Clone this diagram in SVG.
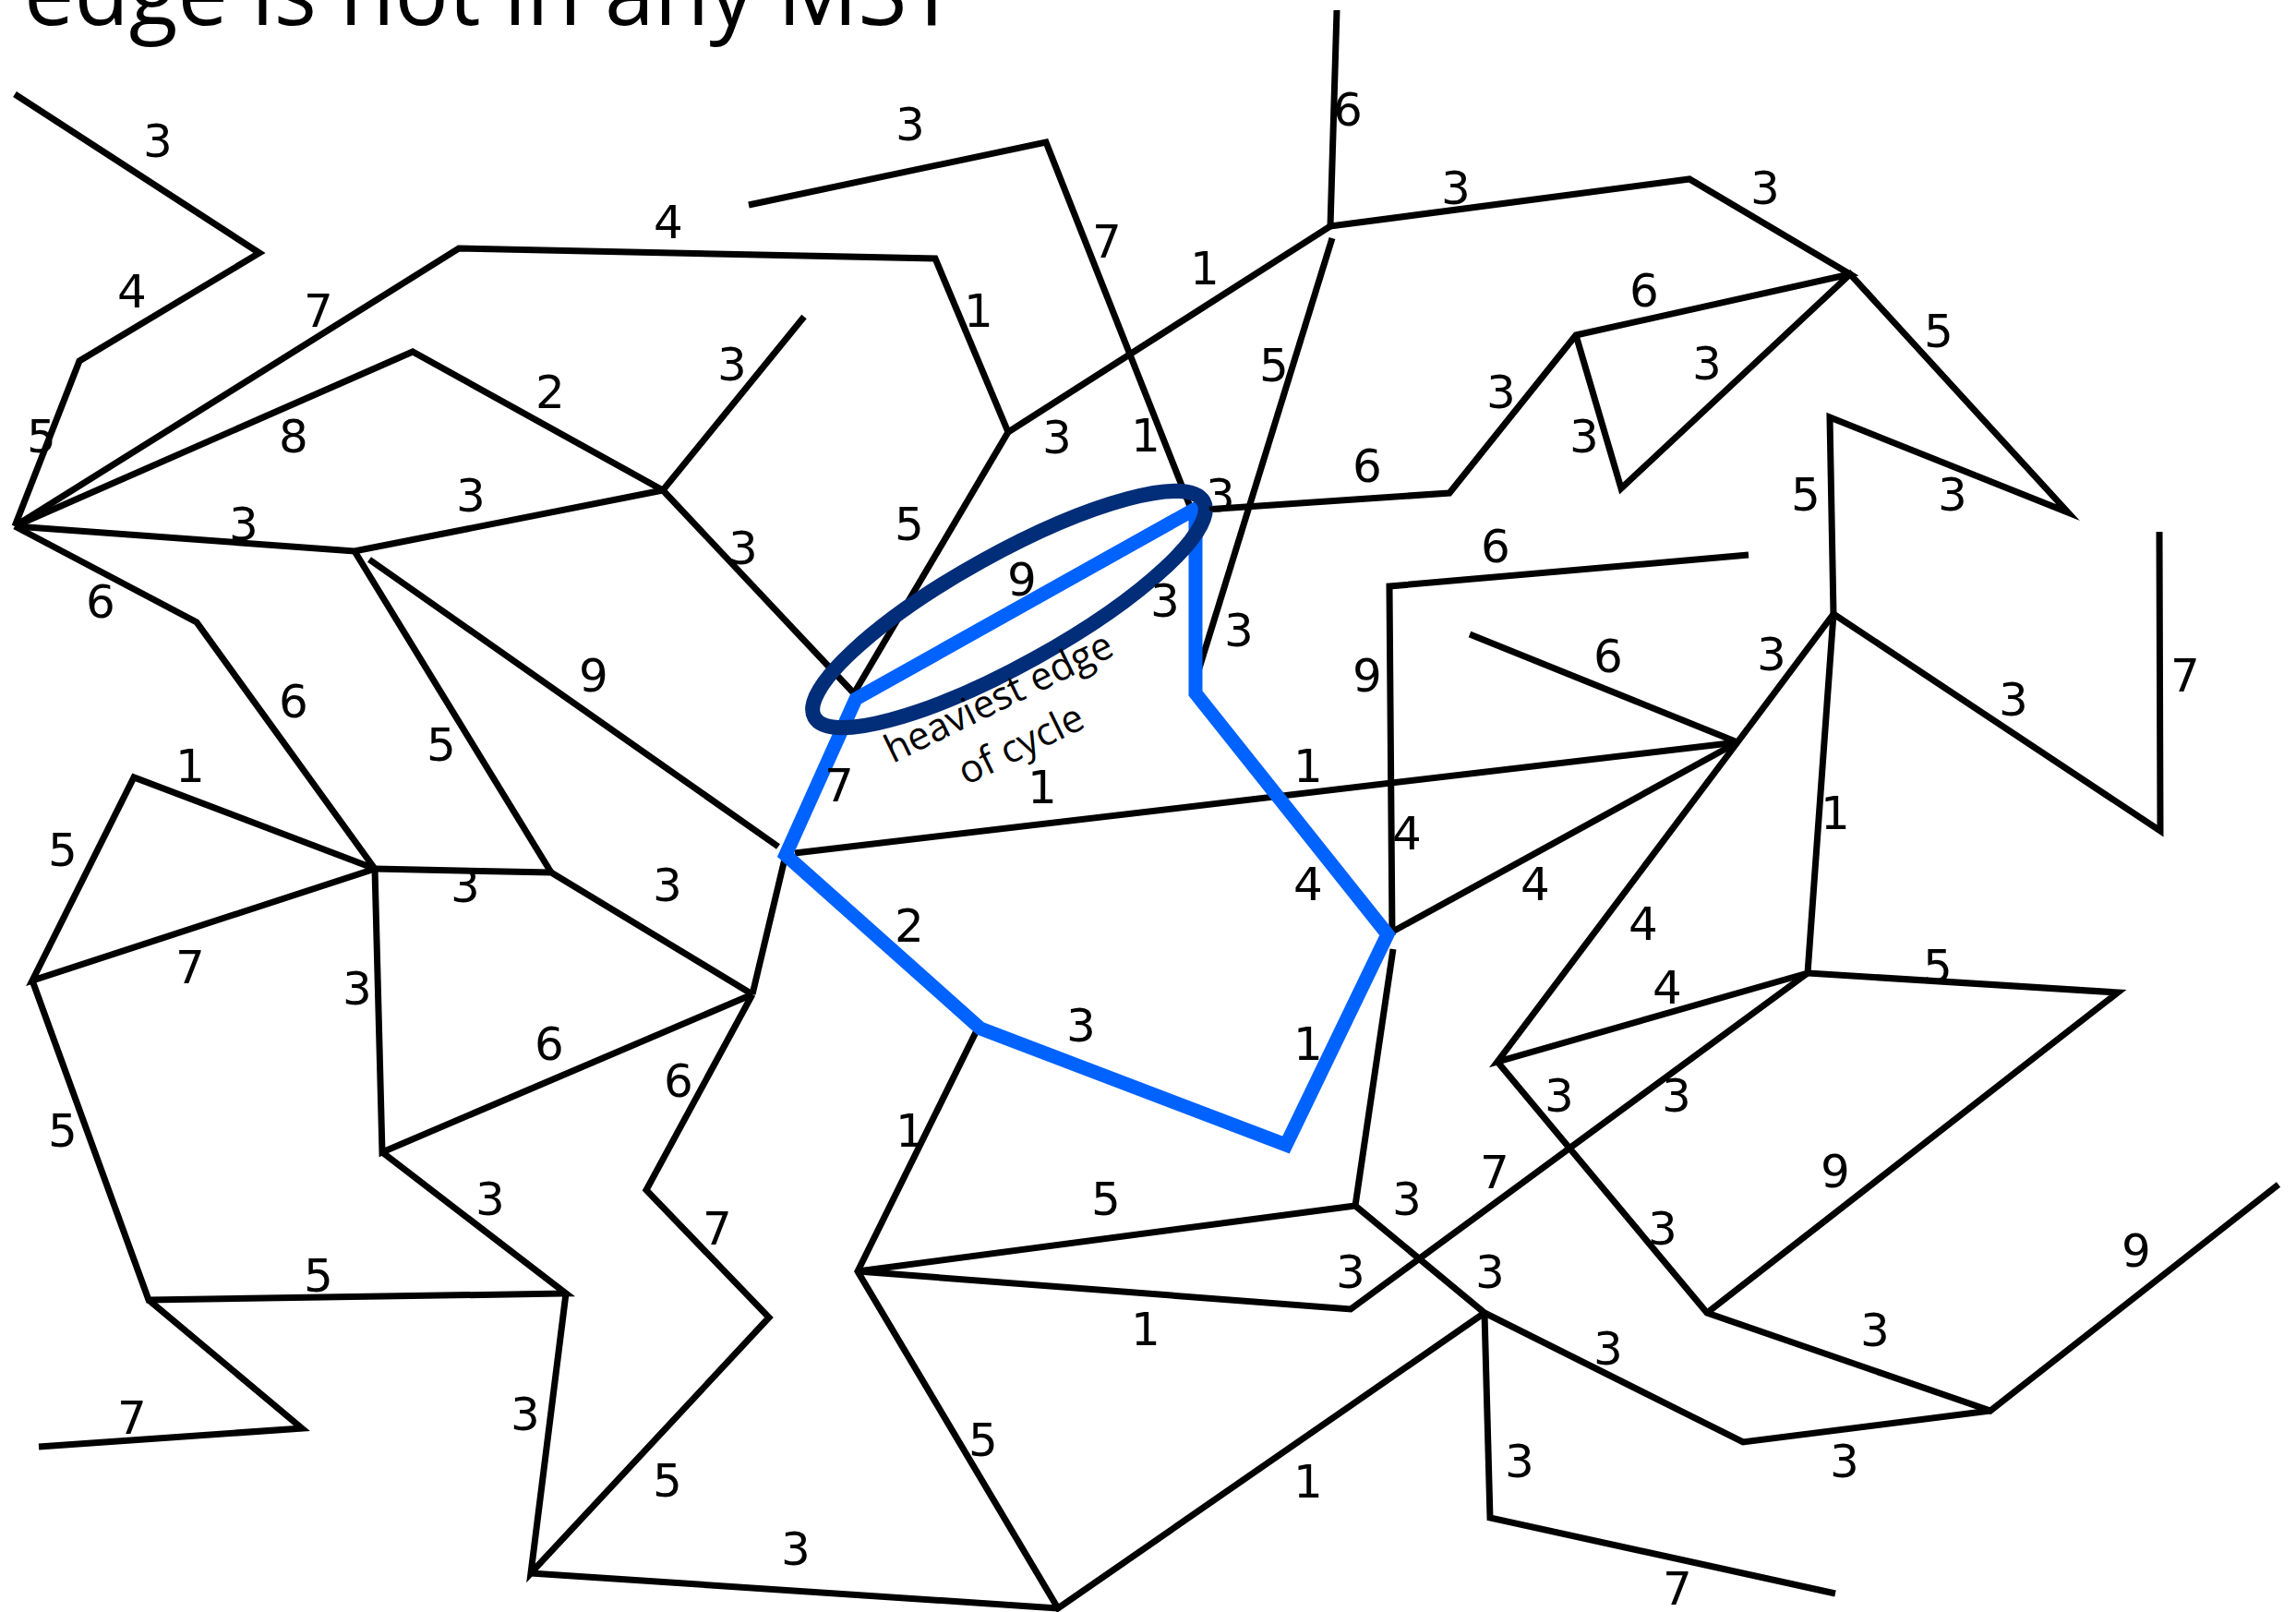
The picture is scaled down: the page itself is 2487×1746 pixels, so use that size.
<svg xmlns="http://www.w3.org/2000/svg" width="2487" height="1746" viewBox="0 0 2487 1746">
<style>
.e{fill:none;stroke:#000;stroke-width:7;stroke-linejoin:miter;stroke-miterlimit:10}
.w{font-family:"DejaVu Sans",sans-serif;font-size:50px;fill:#000;text-anchor:middle}
.cyc{fill:none;stroke:#0062ff;stroke-width:15;stroke-linejoin:miter;stroke-miterlimit:10}
.ring{fill:none;stroke:#022d78;stroke-width:16}
.note{font-family:"Open Sans",sans-serif;font-size:42px;fill:#000;text-anchor:middle}
</style>
<rect width="2487" height="1746" fill="#fff"/>
<text id="title" x="26" y="27" font-family="Open Sans, sans-serif" font-size="98" textLength="1010" lengthAdjust="spacingAndGlyphs">edge is not in any MST</text>
<g id="connectors">
<polyline class="e" points="16,102 281,274 86,391 16,570"/>
<polyline class="e" points="16,570 497,269 1013,280 1092,468"/>
<polyline class="e" points="16,570 447,381 718,531 871,343"/>
<polyline class="e" points="16,570 384,597 718,531"/>
<polyline class="e" points="16,570 213,674 406,941"/>
<polygon class="e" points="406,941 145,842 35,1062"/>
<polyline class="e" points="406,941 597,945 815,1077"/>
<line class="e" x1="384" y1="597" x2="597" y2="945"/>
<line class="e" x1="400" y1="606" x2="843" y2="917"/>
<line class="e" x1="718" y1="531" x2="925" y2="751"/>
<polyline class="e" points="406,941 414,1248 815,1077"/>
<polyline class="e" points="35,1062 161,1408 613,1401 414,1248"/>
<polyline class="e" points="161,1408 327,1547 42,1567"/>
<polyline class="e" points="613,1401 575,1704 833,1427 700,1289 815,1077"/>
<line class="e" x1="575" y1="1704" x2="1146" y2="1742"/>
<line class="e" x1="851" y1="926" x2="815" y2="1077"/>
<line class="e" x1="861" y1="924" x2="1882" y2="804"/>
<line class="e" x1="1092" y1="468" x2="925" y2="751"/>
<line class="e" x1="1092" y1="468" x2="1441" y2="245"/>
<polyline class="e" points="811,222 1133,154 1290,551"/>
<polyline class="e" points="1448,11 1441,245 1830,194 2004,297 1707,363 1570,534 1290,553"/>
<polyline class="e" points="1707,363 1756,529 2004,297 2240,555 1982,452 1986,665"/>
<line class="e" x1="1443" y1="258" x2="1298" y2="727"/>
<polyline class="e" points="1894,601 1505,635 1508,1013"/>
<line class="e" x1="1592" y1="687" x2="1882" y2="804"/>
<polyline class="e" points="1986,665 1882,804 1622,1150 1958,1054"/>
<line class="e" x1="1503" y1="1012" x2="1882" y2="804"/>
<polyline class="e" points="1986,665 2340,900 2339,576"/>
<polyline class="e" points="1986,665 1958,1054 2294,1075 1849,1422"/>
<polyline class="e" points="1622,1150 1849,1422 2156,1528 2468,1283"/>
<polyline class="e" points="1958,1054 1463,1418 929,1377"/>
<polyline class="e" points="929,1377 1468,1306 1608,1422 1888,1562 2156,1528"/>
<line class="e" x1="1509" y1="1028" x2="1468" y2="1306"/>
<polyline class="e" points="1608,1422 1614,1644 1988,1726"/>
<polyline class="e" points="1608,1422 1146,1742 929,1377 1058,1116"/>
</g>
<g id="cycle">
<polygon class="cyc" points="927,757 1295,551 1295,751 1503,1012 1393,1240 1062,1114 851,926"/>
</g>
<g id="highlight">
<ellipse class="ring" cx="1093" cy="660" rx="241" ry="60" transform="rotate(-29 1093 660)"/>
<g transform="rotate(-26 1088 768)"><text class="note" x="1088" y="768">heaviest edge</text></g>
<g transform="rotate(-26 1112 819)"><text class="note" x="1112" y="819">of cycle</text></g>
</g>
<g id="weights" class="w">
<text x="171" y="170">3</text><text x="143" y="333">4</text><text x="45" y="490">5</text><text x="345" y="354">7</text>
<text x="318" y="490">8</text><text x="596" y="442">2</text><text x="724" y="258">4</text><text x="986" y="152">3</text>
<text x="1199" y="279">7</text><text x="1060" y="354">1</text><text x="793" y="412">3</text><text x="510" y="554">3</text>
<text x="264" y="585">3</text><text x="109" y="669">6</text><text x="318" y="777">6</text><text x="478" y="824">5</text>
<text x="643" y="749">9</text><text x="206" y="847">1</text><text x="68" y="938">5</text><text x="504" y="977">3</text>
<text x="723" y="976">3</text><text x="206" y="1065">7</text><text x="387" y="1088">3</text><text x="595" y="1148">6</text>
<text x="735" y="1188">6</text><text x="68" y="1242">5</text><text x="531" y="1316">3</text><text x="777" y="1348">7</text>
<text x="986" y="1242">1</text><text x="345" y="1399">5</text><text x="569" y="1549">3</text><text x="143" y="1553">7</text>
<text x="723" y="1621">5</text><text x="862" y="1695">3</text><text x="1065" y="1577">5</text><text x="1198" y="1316">5</text>
<text x="1241" y="1457">1</text><text x="1417" y="1622">1</text><text x="1646" y="1600">3</text><text x="1817" y="1738">7</text>
<text x="1998" y="1600">3</text><text x="1742" y="1478">3</text><text x="2031" y="1458">3</text><text x="2314" y="1372">9</text>
<text x="1988" y="1286">9</text><text x="1801" y="1348">3</text><text x="1689" y="1204">3</text><text x="1816" y="1204">3</text>
<text x="1619" y="1287">7</text><text x="1524" y="1316">3</text><text x="1614" y="1395">3</text><text x="1463" y="1395">3</text>
<text x="1417" y="1148">1</text><text x="1171" y="1128">3</text><text x="985" y="1020">2</text><text x="909" y="868">7</text>
<text x="1129" y="870">1</text><text x="1107" y="645">9</text><text x="985" y="585">5</text><text x="805" y="611">3</text>
<text x="1145" y="491">3</text><text x="1241" y="489">1</text><text x="1305" y="308">1</text><text x="1380" y="413">5</text>
<text x="1460" y="136">6</text><text x="1577" y="221">3</text><text x="1912" y="221">3</text><text x="1781" y="332">6</text>
<text x="2100" y="376">5</text><text x="1849" y="411">3</text><text x="1626" y="442">3</text><text x="1716" y="490">3</text>
<text x="1481" y="522">6</text><text x="1322" y="554">3</text><text x="1262" y="668">3</text><text x="1342" y="700">3</text>
<text x="1956" y="553">5</text><text x="2115" y="553">3</text><text x="1620" y="609">6</text><text x="1481" y="749">9</text>
<text x="1742" y="728">6</text><text x="1919" y="726">3</text><text x="2181" y="775">3</text><text x="2367" y="749">7</text>
<text x="1417" y="847">1</text><text x="1524" y="920">4</text><text x="1417" y="975">4</text><text x="1663" y="975">4</text>
<text x="1780" y="1018">4</text><text x="1806" y="1087">4</text><text x="1988" y="898">1</text><text x="2099" y="1064">5</text>
</g>
</svg>
